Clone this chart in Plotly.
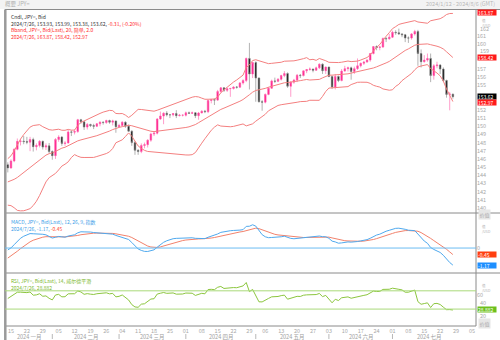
import pandas as pd
import plotly.graph_objects as go

# ---------------- data ----------------
dates = pd.bdate_range("2024-01-12", "2024-07-26")
axis_dates = pd.bdate_range("2024-01-12", "2024-08-06")

opens = [145.28, 144.90, 145.75, 147.18, 148.15, 148.18, 148.12, 148.05, 148.38, 147.50,
         147.65, 148.15, 147.45, 147.60, 146.90, 146.40, 148.38, 148.68, 147.90, 147.95,
         149.30, 149.28, 149.35, 150.80, 150.55, 149.90, 150.22, 150.08, 150.00, 150.30,
         150.50, 150.45, 150.70, 150.50, 150.65, 149.95, 150.10, 150.50, 150.00, 149.40,
         148.00, 147.05, 146.90, 147.65, 147.75, 148.30, 149.05, 149.15, 150.88, 151.25,
         151.60, 151.40, 151.40, 151.55, 151.30, 151.35, 151.35, 151.65, 151.58, 151.65,
         151.30, 151.62, 151.85, 151.78, 153.15, 153.25, 153.20, 154.25, 154.70, 154.40,
         154.60, 154.62, 154.80, 154.78, 155.30, 155.60, 158.30, 156.40, 157.80, 155.90,
         153.00, 152.95, 153.90, 154.65, 155.55, 155.50, 155.75, 156.20, 156.45, 154.90,
         155.40, 155.65, 156.25, 156.20, 156.78, 156.95, 157.00, 156.85, 157.15, 157.60,
         156.80, 157.25, 156.10, 154.80, 156.10, 155.60, 156.75, 157.05, 157.15, 156.70,
         157.05, 157.40, 157.70, 157.85, 158.10, 158.90, 159.75, 159.65, 159.70, 160.75,
         160.70, 160.90, 161.50, 161.45, 161.30, 161.20, 160.80, 160.80, 161.30, 161.60,
         158.90, 157.90, 158.10, 158.30, 156.20, 157.40, 157.50, 157.00, 155.60, 153.90, 153.93]
highs = [145.58, 145.95, 147.30, 148.50, 148.45, 148.80, 148.70, 148.70, 148.60, 147.90,
         148.30, 148.25, 147.90, 147.95, 147.05, 148.55, 148.90, 148.80, 148.20, 149.55,
         149.50, 149.60, 150.90, 150.90, 150.60, 150.40, 150.30, 150.30, 150.40, 150.60,
         150.60, 150.80, 150.80, 150.80, 150.70, 150.30, 150.60, 150.60, 150.20, 149.50,
         148.20, 147.20, 147.90, 148.00, 148.40, 149.20, 149.30, 151.00, 151.80, 151.70,
         151.85, 151.50, 151.60, 151.97, 151.50, 151.45, 151.80, 151.80, 151.80, 151.70,
         151.75, 151.95, 152.00, 153.25, 153.30, 153.40, 154.45, 154.80, 154.80, 154.70,
         154.70, 154.90, 154.90, 155.40, 155.75, 158.40, 160.20, 157.90, 157.95, 156.00,
         153.20, 154.00, 154.80, 155.70, 155.95, 155.90, 156.30, 156.75, 156.60, 155.50,
         155.80, 156.40, 156.40, 156.80, 157.00, 157.20, 157.05, 157.30, 157.70, 157.70,
         157.30, 157.30, 156.20, 156.40, 156.20, 157.00, 157.40, 157.30, 157.30, 157.30,
         158.30, 157.80, 158.00, 158.20, 158.95, 159.80, 159.90, 159.80, 160.85, 160.90,
         161.30, 161.70, 161.75, 161.95, 161.40, 161.30, 161.00, 161.40, 161.80, 161.80,
         159.40, 158.70, 158.90, 158.90, 157.60, 157.90, 157.60, 157.20, 155.70, 154.20, 153.99]
lows = [144.35, 144.80, 145.60, 147.05, 147.65, 147.80, 147.80, 146.95, 146.90, 147.05,
        147.40, 147.15, 147.10, 146.70, 145.90, 146.00, 148.10, 147.60, 147.60, 147.90,
        148.80, 149.00, 149.20, 150.30, 149.55, 149.60, 149.90, 149.65, 149.90, 150.00,
        150.20, 150.30, 150.30, 150.10, 149.20, 149.85, 150.00, 149.80, 149.35, 147.60,
        146.50, 146.50, 146.70, 147.30, 147.40, 148.10, 148.80, 149.00, 150.80, 150.25,
        151.20, 151.00, 151.20, 151.00, 151.20, 151.20, 151.20, 151.50, 151.50, 151.00,
        150.80, 151.60, 151.60, 151.60, 152.80, 152.60, 153.10, 154.10, 154.20, 154.20,
        153.60, 154.50, 154.60, 154.70, 155.10, 155.40, 154.50, 155.90, 153.00, 152.90,
        151.90, 152.80, 153.80, 154.60, 155.30, 155.40, 155.60, 156.00, 154.70, 153.60,
        155.20, 155.40, 155.90, 156.10, 156.50, 156.80, 156.60, 156.80, 157.00, 156.40,
        156.40, 156.00, 154.55, 154.50, 155.40, 155.50, 156.70, 156.70, 155.70, 156.40,
        156.90, 157.20, 157.50, 157.80, 157.90, 158.80, 159.30, 159.30, 159.60, 160.30,
        160.60, 160.80, 161.20, 161.20, 160.90, 160.30, 160.20, 160.60, 161.10, 157.40,
        157.20, 157.80, 157.90, 155.40, 155.70, 157.10, 156.40, 155.40, 153.50, 151.95, 153.38]
closes = [144.90, 145.75, 147.18, 148.15, 148.18, 148.12, 148.05, 148.38, 147.50, 147.65,
          148.15, 147.45, 147.60, 146.90, 146.40, 148.38, 148.68, 147.90, 147.95, 149.30,
          149.28, 149.35, 150.80, 150.55, 149.90, 150.22, 150.08, 150.00, 150.30, 150.50,
          150.45, 150.70, 150.50, 150.65, 149.95, 150.10, 150.50, 150.00, 149.40, 148.00,
          147.05, 146.90, 147.65, 147.75, 148.30, 149.05, 149.15, 150.88, 151.25, 151.60,
          151.40, 151.40, 151.55, 151.30, 151.35, 151.35, 151.65, 151.58, 151.65, 151.30,
          151.62, 151.85, 151.78, 153.15, 153.25, 153.20, 154.25, 154.70, 154.40, 154.60,
          154.62, 154.80, 154.78, 155.30, 155.60, 158.30, 156.40, 157.80, 155.90, 153.00,
          152.95, 153.90, 154.65, 155.55, 155.50, 155.75, 156.20, 156.45, 154.90, 155.40,
          155.65, 156.25, 156.20, 156.78, 156.95, 157.00, 156.85, 157.15, 157.60, 156.80,
          157.25, 156.10, 154.80, 156.10, 155.60, 156.75, 157.05, 157.15, 156.70, 157.05,
          157.40, 157.70, 157.85, 158.10, 158.90, 159.75, 159.65, 159.70, 160.75, 160.70,
          160.90, 161.50, 161.45, 161.30, 161.20, 160.80, 160.80, 161.30, 161.60, 158.90,
          157.90, 158.10, 158.30, 156.20, 157.40, 157.50, 157.00, 155.60, 153.90, 153.93, 153.62]
# closes before the visible window (2023-10-02 .. 2024-01-11), needed for indicator warm-up
warmup_closes = [149.85, 149.05, 149.05, 148.50, 149.30, 148.50, 148.75, 149.10, 149.80, 149.55,
                 149.55, 149.80, 149.80, 149.85, 149.85, 149.70, 149.90, 150.20, 150.40, 149.60,
                 149.10, 151.70,
                 150.95, 150.45, 149.40, 150.05, 150.40, 150.95, 151.35, 151.50, 151.70, 150.40,
                 151.35, 150.70, 149.60, 148.30, 148.40, 149.55, 149.55, 149.45, 148.70, 147.45,
                 147.25, 148.20,
                 146.80, 147.20, 147.15, 147.30, 144.10, 144.95, 146.20, 145.40, 142.90, 141.90,
                 142.20, 142.80, 143.80, 143.60, 142.10, 142.40, 142.30, 142.40, 141.80, 141.40,
                 141.00,
                 141.00, 142.00, 143.30, 144.60, 144.60, 144.20, 144.50, 145.70, 145.30]

tick_labels = ["15", "22", "29", "05", "12", "19", "26", "04", "11", "18", "25", "01", "08", "15",
               "22", "29", "06", "13", "20", "27", "03", "10", "17", "24", "01", "08", "15", "22",
               "29", "05"]
month_labels = ["2024 一月", "2024 二月", "2024 三月", "2024 四月", "2024 五月", "2024 六月", "2024 七月"]

# price labels on the right axis (the rest are hidden behind the value boxes)
price_ticks = [140, 141, 142, 143, 144, 145, 146, 147, 148, 149, 150, 151, 152, 155, 156, 157, 160, 161]
price_nudged = [159, 162]          # labels squeezed next to a box / unit label
macd_ticks = [0]
rsi_ticks = [60]
rsi_nudged = [40, 20]
rsi_levels = [70, 30]

last_close = 153.62
bb_last = [163.87, 158.42, 152.97]
macd_last = [-1.17, -0.45]
rsi_last = 28.882

# ---------------- indicators ----------------
allc = pd.Series(warmup_closes + closes, dtype=float)
n = len(closes)
mid = allc.rolling(20).mean()
sd = allc.rolling(20).std(ddof=0)
bb_up = (mid + 2 * sd).iloc[-n:].tolist()
bb_mid = mid.iloc[-n:].tolist()
bb_lo = (mid - 2 * sd).iloc[-n:].tolist()
ema12 = allc.ewm(span=12, adjust=False).mean()
ema26 = allc.ewm(span=26, adjust=False).mean()
macd_s = ema12 - ema26
sig_s = macd_s.ewm(span=9, adjust=False).mean()
macd = macd_s.iloc[-n:].tolist()
sig = sig_s.iloc[-n:].tolist()
d = allc.diff()
g = d.clip(lower=0).ewm(alpha=1 / 14, adjust=False).mean()
l = (-d.clip(upper=0)).ewm(alpha=1 / 14, adjust=False).mean()
rsi = (100 - 100 / (1 + g / l)).iloc[-n:].tolist()

xi = list(range(n))
tickvals = [i for i, dt in enumerate(axis_dates) if dt.weekday() == 0]
month_start = [i for i, dt in enumerate(axis_dates) if i > 0 and dt.month != axis_dates[i - 1].month]

# ---------------- geometry helpers ----------------
W, H = 500, 340
ML, MR, MT, MB = 5, 24, 10, 14
PW, PH = W - ML - MR, H - MT - MB
XR = [-0.88, 147.27]


def px(p):
    return (p - ML) / PW


def py(p):
    return (H - MB - p) / PH


FONT = "Noto Sans CJK SC, Noto Sans, sans-serif"
UP, DOWN = "#ff1f8e", "#111111"
BBC = "#f47f7f"
MACDC, SIGC = "#4fa9ee", "#f2826c"
RSIC = "#8cc63e"
TICKC = "#a8a8a8"

fig = go.Figure()
fig.add_trace(go.Candlestick(
    x=xi, open=opens, high=highs, low=lows, close=closes, xaxis="x", yaxis="y",
    increasing=dict(line=dict(color="#ff5aa8", width=0.6), fillcolor=UP),
    decreasing=dict(line=dict(color="#808080", width=0.6), fillcolor=DOWN),
    whiskerwidth=0, hoverinfo="skip"))
for s in (bb_up, bb_mid, bb_lo):
    fig.add_trace(go.Scatter(x=xi, y=s, mode="lines", line=dict(color=BBC, width=1),
                             xaxis="x", yaxis="y", hoverinfo="skip"))
fig.add_trace(go.Scatter(x=xi, y=sig, mode="lines", line=dict(color=SIGC, width=1),
                         xaxis="x2", yaxis="y2", hoverinfo="skip"))
fig.add_trace(go.Scatter(x=xi, y=macd, mode="lines", line=dict(color=MACDC, width=1),
                         xaxis="x2", yaxis="y2", hoverinfo="skip"))
fig.add_trace(go.Scatter(x=xi, y=rsi, mode="lines", line=dict(color=RSIC, width=1),
                         xaxis="x3", yaxis="y3", hoverinfo="skip"))

d_price = [py(213), 1]
d_macd = [py(273), py(213)]
d_rsi = [0, py(273)]

axcommon = dict(showgrid=False, zeroline=False, showline=False, ticks="",
                tickfont=dict(size=5.5, color=TICKC, family=FONT))
fig.update_layout(
    width=W, height=H, margin=dict(l=ML, r=MR, t=MT, b=MB),
    paper_bgcolor="white", plot_bgcolor="white", showlegend=False,
    font=dict(family=FONT),
    xaxis=dict(domain=[0, 1], anchor="y", range=XR, showticklabels=False,
               rangeslider=dict(visible=False), **axcommon),
    xaxis2=dict(domain=[0, 1], anchor="y2", range=XR, matches="x", showticklabels=False, **axcommon),
    xaxis3=dict(domain=[0, 1], anchor="y3", range=XR, matches="x", tickvals=tickvals,
                ticktext=tick_labels, ticklabelstandoff=0, **axcommon),
    yaxis=dict(domain=d_price, anchor="x", side="right", range=[139.38, 164.23],
               tickvals=price_ticks, **axcommon),
    yaxis2=dict(domain=d_macd, anchor="x2", side="right", range=[-1.71, 2.40],
                tickvals=macd_ticks, **axcommon),
    yaxis3=dict(domain=d_rsi, anchor="x3", side="right", range=[-7, 109],
                tickvals=rsi_ticks, **axcommon),
)

shapes = []
# header strip
shapes.append(dict(type="rect", xref="paper", yref="paper", x0=px(0), x1=px(W), y0=py(9), y1=py(0),
                   fillcolor="#f3f3f3", line=dict(width=0), layer="below"))
for yy, x1 in ((9.5, W), (213, W), (273, W), (326, 476)):
    shapes.append(dict(type="line", xref="paper", yref="paper", x0=px(5), x1=px(x1), y0=py(yy), y1=py(yy),
                       line=dict(color="#8a8a8a", width=1)))
shapes.append(dict(type="line", xref="paper", yref="paper", x0=px(476), x1=px(476), y0=py(326), y1=py(9.5),
                   line=dict(color="#8a8a8a", width=1)))
shapes.append(dict(type="line", xref="paper", yref="paper", x0=px(5.3), x1=px(5.3), y0=py(H), y1=py(9.5),
                   line=dict(color="#9a9a9a", width=2.5)))
# MACD zero line and RSI levels
shapes.append(dict(type="line", xref="x2 domain", yref="y2", x0=0, x1=1, y0=0, y1=0,
                   line=dict(color="#6bbcf2", width=1)))
for lv in rsi_levels:
    shapes.append(dict(type="line", xref="x3 domain", yref="y3", x0=0, x1=1, y0=lv, y1=lv,
                       line=dict(color="#a9d97a", width=1)))
# month separators in the date row
for ms in month_start[:6]:
    shapes.append(dict(type="line", xref="x3", yref="paper", x0=ms, x1=ms, y0=py(339), y1=py(334),
                       line=dict(color="#b8b8b8", width=1)))
fig.update_layout(shapes=shapes)

ann = []


def txt(x, y, t, color="#333", size=5.5, anchor="left", yanchor="middle"):
    ann.append(dict(xref="paper", yref="paper", x=px(x), y=py(y), text=t, showarrow=False,
                    xanchor=anchor, yanchor=yanchor, align="left",
                    font=dict(size=size, color=color, family=FONT)))


def span(t, c):
    return "<span style='color:%s'>%s</span>" % (c, t)


txt(3, 4.5, "概要 JPY=", "#b0b0b0")
txt(497, 4.5, "2024/1/12 - 2024/8/6 (GMT)", "#b8b8b8", anchor="right")
RED = "#ff2a2a"
BLUE = "#3b9de8"
GREEN = "#7cb82e"
price_legend = "<br>".join([
    span("Cndl, JPY=, Bid", "#333333"),
    span("2024/7/26, 153.93, 153.99, 153.38, 153.62, ", "#333333") + span("-0.31, (-0.20%)", RED),
    span("Bband, JPY=, Bid(Last), 20, 简单, 2.0", RED),
    span("2024/7/26, 163.87, 158.42, 152.97", RED),
])
txt(9, 10.5, price_legend, "#333", 5, yanchor="top")
macd_legend = "<br>".join([
    span("MACD, JPY=, Bid(Last), 12, 26, 9, 指数", BLUE),
    span("2024/7/26, -1.17, ", BLUE) + span("-0.45", "#ff4a2a"),
])
txt(9, 215.5, macd_legend, BLUE, 5, yanchor="top")
rsi_legend = "<br>".join([
    span("RSI, JPY=, Bid(Last), 14, 威尔德平滑", GREEN),
    span("2024/7/26, 28.882", GREEN),
])
txt(9, 275, rsi_legend, GREEN, 5, yanchor="top")

# axis unit labels
for yy in (15.6, 221.5, 281):
    txt(480, yy, "值<br>/USD", "#b0b0b0", 3.5, yanchor="top")
# grey corner boxes
for yy in (214, 323):
    ann.append(dict(xref="paper", yref="paper", x=px(478), y=py(yy), text="价值", showarrow=False,
                    xanchor="left", yanchor="middle", bgcolor="#e6e6e6", borderpad=0.5,
                    font=dict(size=5, color="#aaaaaa", family=FONT)))


def scale_label(yref, val, shift):
    ann.append(dict(xref="paper", yref=yref, x=px(478), y=val, yshift=shift, text=str(val),
                    showarrow=False, xanchor="left", yanchor="middle",
                    font=dict(size=5.5, color=TICKC, family=FONT)))


scale_label("y", price_nudged[0], 1.5)
scale_label("y", price_nudged[1], -1.2)
scale_label("y3", rsi_nudged[0], 1.5)
scale_label("y3", rsi_nudged[1], -2)


def box(yref, val, text, bg, shift=0):
    ann.append(dict(xref="paper", yref=yref, x=px(477), y=val, yshift=shift, text=text, showarrow=False,
                    xanchor="left", yanchor="middle", bgcolor=bg, borderpad=0, width=18, height=5.4,
                    align="left", font=dict(size=5, color="white", family=FONT)))


box("y", bb_last[0], "%.2f" % bb_last[0], "#ff1a1a")
box("y", bb_last[1], "%.2f" % bb_last[1], "#ff1a1a")
box("y", last_close, "%.2f" % last_close, "#000000", 0.6)
box("y", bb_last[2], "%.2f" % bb_last[2], "#ff1a1a", -0.6)
box("y2", macd_last[1], "%.2f" % macd_last[1], "#ff3f10")
box("y2", macd_last[0], "%.2f" % macd_last[0], "#1e8fff")
box("y3", rsi_last, "%.3f" % rsi_last, "#6cc01c")

# month row
for i, lab in enumerate(month_labels):
    a = XR[0] if i == 0 else month_start[i - 1]
    b = month_start[i] if i < len(month_start) else XR[1]
    ann.append(dict(xref="x3", yref="paper", x=(a + b) / 2, y=py(336.5), text=lab, showarrow=False,
                    xanchor="center", yanchor="middle", font=dict(size=5.5, color="#a0a0a0", family=FONT)))

fig.update_layout(annotations=ann)
fig.write_html("out.html")
